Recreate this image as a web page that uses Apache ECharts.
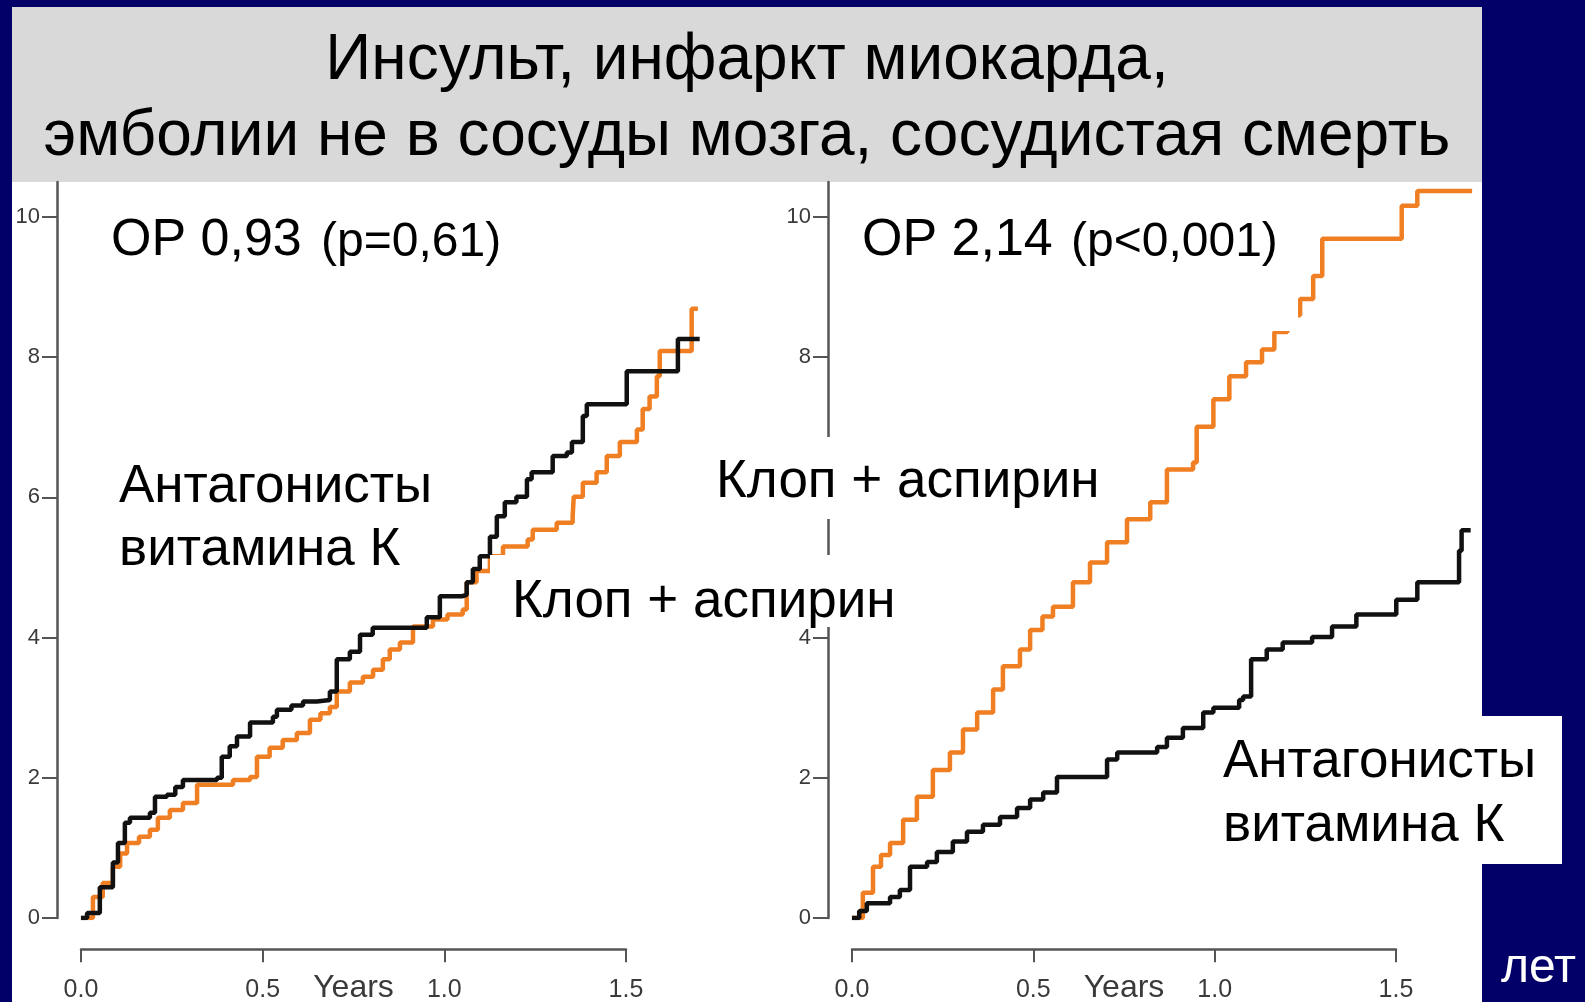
<!DOCTYPE html>
<html><head><meta charset="utf-8">
<script src="https://cdn.jsdelivr.net/npm/echarts@6/dist/echarts.min.js"></script>
<style>html,body{margin:0;padding:0;background:#020068;}#c{width:1585px;height:1002px;}</style>
</head><body><div id="c"></div>
<script>
// ---- data (years, % cumulative events) ----
const yTicks = [0, 2, 4, 6, 8, 10];
const xTicks = [0, 0.5, 1.0, 1.5];

// Left panel: Antagonists vitamin K (black)
const lbT = [0, 0.017, 0.052, 0.088, 0.102, 0.121, 0.135, 0.19, 0.204, 0.237, 0.26, 0.281, 0.375, 0.388, 0.41, 0.43, 0.466, 0.529, 0.54, 0.58, 0.612, 0.65, 0.686, 0.705, 0.741, 0.769, 0.804, 0.953, 0.989, 1.05, 1.063, 1.08, 1.099, 1.127, 1.146, 1.168, 1.2, 1.229, 1.242, 1.3, 1.339, 1.353, 1.383, 1.394, 1.504, 1.645, 1.705];
const lbV = [0, 0.07, 0.44, 0.79, 1.07, 1.36, 1.43, 1.5, 1.73, 1.76, 1.87, 1.97, 2.0, 2.3, 2.45, 2.59, 2.79, 2.87, 2.97, 3.03, 3.09, 3.11, 3.23, 3.69, 3.8, 4.04, 4.14, 4.29, 4.59, 4.61, 4.79, 4.98, 5.16, 5.44, 5.73, 5.93, 6.01, 6.26, 6.36, 6.59, 6.64, 6.79, 7.16, 7.33, 7.8, 8.26, 8.26];
// Left panel: Clopidogrel + aspirin (orange)
const loT = [0, 0.033, 0.06, 0.088, 0.108, 0.127, 0.16, 0.19, 0.212, 0.245, 0.281, 0.32, 0.419, 0.466, 0.485, 0.52, 0.556, 0.595, 0.631, 0.66, 0.686, 0.705, 0.741, 0.777, 0.805, 0.832, 0.851, 0.879, 0.915, 0.97, 1.01, 1.052, 1.063, 1.09, 1.127, 1.163, 1.231, 1.245, 1.311, 1.355, 1.358, 1.383, 1.421, 1.449, 1.485, 1.532, 1.548, 1.567, 1.587, 1.595, 1.683, 1.7];
const loV = [0, 0.3, 0.5, 0.73, 0.92, 1.07, 1.16, 1.26, 1.43, 1.54, 1.64, 1.9, 1.97, 2.01, 2.3, 2.43, 2.54, 2.64, 2.83, 2.92, 3.01, 3.23, 3.36, 3.44, 3.54, 3.69, 3.83, 3.93, 4.16, 4.26, 4.33, 4.4, 4.79, 4.95, 5.16, 5.3, 5.4, 5.54, 5.64, 5.73, 6.01, 6.21, 6.36, 6.59, 6.79, 6.97, 7.26, 7.44, 7.73, 8.09, 8.69, 8.69];

// Right panel: Clopidogrel + aspirin (orange)
const roT = [0, 0.03, 0.058, 0.08, 0.105, 0.141, 0.179, 0.223, 0.27, 0.306, 0.345, 0.389, 0.416, 0.463, 0.491, 0.525, 0.554, 0.609, 0.656, 0.703, 0.758, 0.822, 0.868, 0.94, 0.95, 0.996, 1.04, 1.086, 1.13, 1.164, 1.2, 1.235, 1.271, 1.296, 1.515, 1.558, 1.709];
const roV = [0, 0.36, 0.73, 0.9, 1.07, 1.4, 1.73, 2.11, 2.36, 2.69, 2.93, 3.26, 3.59, 3.83, 4.11, 4.3, 4.44, 4.79, 5.07, 5.36, 5.69, 5.93, 6.4, 6.5, 7.01, 7.4, 7.73, 7.93, 8.11, 8.36, 8.6, 8.83, 9.16, 9.69, 10.16, 10.37, 10.37];
// Right panel: Antagonists vitamin K (black)
const rbT = [0, 0.02, 0.041, 0.105, 0.132, 0.16, 0.207, 0.234, 0.278, 0.317, 0.361, 0.408, 0.455, 0.491, 0.527, 0.565, 0.703, 0.731, 0.841, 0.868, 0.912, 0.968, 0.996, 1.067, 1.078, 1.1, 1.143, 1.187, 1.268, 1.323, 1.39, 1.5, 1.558, 1.673, 1.68, 1.705];
const rbV = [0, 0.1, 0.21, 0.3, 0.4, 0.73, 0.8, 0.94, 1.09, 1.23, 1.33, 1.44, 1.57, 1.69, 1.79, 2.01, 2.26, 2.36, 2.44, 2.57, 2.71, 2.93, 3.0, 3.11, 3.16, 3.69, 3.83, 3.93, 4.01, 4.16, 4.33, 4.54, 4.79, 5.24, 5.53, 5.53];

const zip = (t, v) => t.map((x, i) => [x, v[i]]);

const ORANGE = '#F07E22', BLACK = '#111111', AXIS = '#555555', LBL = '#3a3a3a';
const FONT = '"Liberation Sans", Arial, sans-serif';

function yAx(g) {
  return {
    gridIndex: g, type: 'value', min: 0, max: 10.5,
    axisLine: { show: true, onZero: false, lineStyle: { color: AXIS, width: 2.5 } },
    axisTick: { show: true, length: 15, customValues: yTicks, lineStyle: { color: AXIS, width: 2 } },
    axisLabel: { customValues: yTicks, margin: 17, fontSize: 22, color: LBL, fontFamily: FONT },
    splitLine: { show: false }
  };
}
function xAxVis(g) {
  return {
    gridIndex: g, type: 'value', min: 0, max: 1.5, interval: 0.5,
    axisLine: { show: true, onZero: false, lineStyle: { color: AXIS, width: 2.5 } },
    axisTick: { show: true, length: 13, customValues: xTicks, lineStyle: { color: AXIS, width: 2 } },
    axisLabel: { margin: 28, fontSize: 25, color: LBL, fontFamily: FONT, formatter: v => v.toFixed(1) },
    splitLine: { show: false },
    name: 'Years', nameLocation: 'middle', nameGap: 23, nameMoveOverlap: false,
    nameTextStyle: { fontSize: 32, color: LBL, fontFamily: FONT, verticalAlign: 'top' }
  };
}
function xAxHid(g) {
  return { gridIndex: g, type: 'value', min: -0.066, max: 1.75, show: false };
}
function line(name, data, color, xi, yi) {
  return {
    name, type: 'line', xAxisIndex: xi, yAxisIndex: yi, data, step: 'end',
    symbol: 'none', lineStyle: { color, width: 4.5 }, z: 3
  };
}
function txt(x, y, text, size, fill, align) {
  return {
    type: 'text', x, y, z: 60,
    style: { text, font: size + 'px ' + FONT, fill: fill || '#000', textAlign: align || 'left', textVerticalAlign: 'middle' }
  };
}
function box(x, y, w, h, fill, z) {
  return { type: 'rect', shape: { x, y, width: w, height: h }, style: { fill }, z: z };
}

const chart = echarts.init(document.getElementById('c'));
chart.setOption({
  backgroundColor: '#020068',
  animation: false,
  grid: [
    { left: 57, top: 182, width: 659, height: 736 },
    { left: 828, top: 182, width: 659, height: 736 },
    { left: 81, top: 949, width: 545, height: 1 },
    { left: 852, top: 949, width: 544, height: 1 }
  ],
  xAxis: [xAxHid(0), xAxHid(1), xAxVis(2), xAxVis(3)],
  yAxis: [yAx(0), yAx(1), { gridIndex: 2, show: false }, { gridIndex: 3, show: false }],
  series: [
    line('Клоп + аспирин', zip(loT, loV), ORANGE, 0, 0),
    line('Антагонисты витамина К', zip(lbT, lbV), BLACK, 0, 0),
    line('Клоп + аспирин', zip(roT, roV), ORANGE, 1, 1),
    line('Антагонисты витамина К', zip(rbT, rbV), BLACK, 1, 1)
  ],
  graphic: [
    box(12, 182, 1470, 820, '#ffffff', -10),
    box(12, 7, 1470, 175, '#d9d9d9', -10),
    txt(747, 61, 'Инсульт, инфаркт миокарда,', 64, '#000', 'center'),
    txt(747, 137, 'эмболии не в сосуды мозга, сосудистая смерть', 64, '#000', 'center'),
    // left panel labels
    txt(111, 241, 'ОР 0,93', 52),
    txt(321, 243, '(p=0,61)', 48),
    txt(119, 487, 'Антагонисты', 53),
    txt(119, 550, 'витамина К', 53),
    box(490, 555, 415, 72, '#ffffff', 50),
    txt(512, 602, 'Клоп + аспирин', 53),
    // right panel labels
    box(845, 192, 453, 139, '#ffffff', 50),
    txt(862, 241, 'ОР 2,14', 52),
    txt(1071, 243, '(p<0,001)', 48),
    box(705, 437, 405, 82, '#ffffff', 50),
    txt(716, 482, 'Клоп + аспирин', 53),
    box(1208, 716, 354, 148, '#ffffff', 50),
    txt(1223, 762, 'Антагонисты', 53),
    txt(1223, 826, 'витамина К', 53),
    txt(1501, 969, 'лет', 48, '#ffffff')
  ]
});
</script>
</body></html>
